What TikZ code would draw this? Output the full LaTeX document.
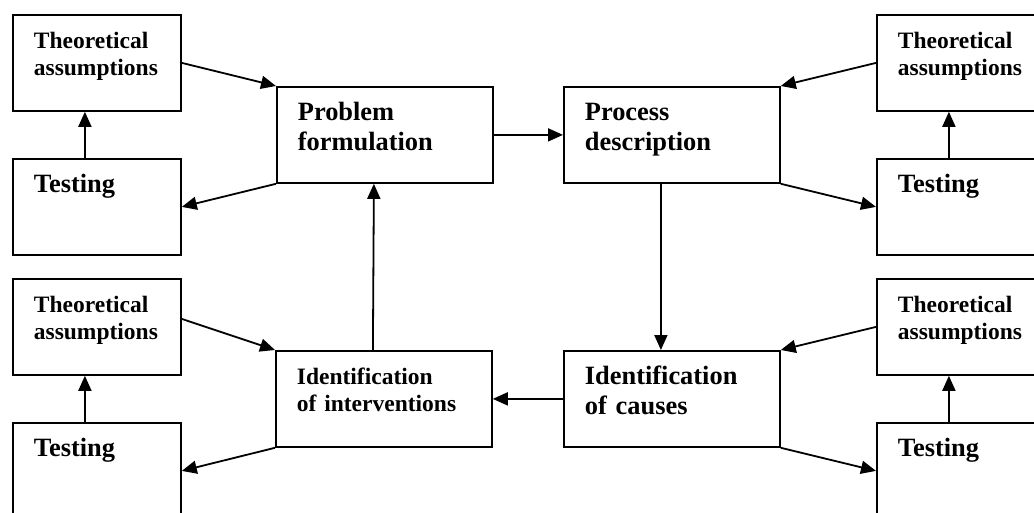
\documentclass[tikz,border=0pt]{standalone}
\usepackage{fontspec}
\setmainfont{Liberation Serif}
\usetikzlibrary{arrows.meta}

\tikzset{
  box/.style={draw,line width=1.8pt,anchor=north west,align=left,
    inner xsep=21pt,inner ysep=0pt,text height=34pt,text depth=62pt,
    font=\bfseries\fontsize{26.4}{30}\selectfont,text width=126pt},
  small/.style={font=\bfseries\fontsize{23.5}{27}\selectfont},
  wide/.style={text width=174pt},
  arr/.style={line width=1.8pt,-{Triangle[length=15pt,width=13pt]}}
}

\begin{document}
\begin{tikzpicture}[x=1pt,y=-1pt]
\useasboundingbox (0,0) rectangle (1034,513);
\draw
(12,14) node[box,small](ta1){Theoretical\\assumptions}
(12,158) node[box](ts1){Testing}
(12,278) node[box,small](ta3){Theoretical\\assumptions}
(12,422) node[box](ts3){Testing}
(276,86) node[box,wide](pf){Problem\\formulation}
(563,86) node[box,wide](pd){Process\\description}
(275,350) node[box,wide,small](ii){Identification\\of interventions}
(563,350) node[box,wide](ic){Identification\\of causes}
(876,14) node[box,small](ta2){Theoretical\\assumptions}
(876,158) node[box](ts2){Testing}
(876,278) node[box,small](ta4){Theoretical\\assumptions}
(876,422) node[box](ts4){Testing}
;
\foreach \x/\y in {ta1.east/pf.north west, pf.south west/ts1.east,
  ta2.west/pd.north east, pd.south east/ts2.west, ii.south west/ts3.east,
  ta4.west/ic.north east, ic.south east/ts4.west, pf.east/pd.west, ic.west/ii.east}{
\draw[arr](\x)--(\y);
}
\draw[arr]([yshift=8pt]ta3.east)--(ii.north west);
\foreach \n in {1,...,4}{
\draw[arr]([xshift=-12pt]ts\n.north)--([xshift=-12pt]ta\n.south);
}
\draw[arr]([xshift=-11pt]pd.south)--([xshift=-11pt]ic.north);
\draw[arr]([xshift=-11pt]ii.north)--([xshift=-11pt]pf.south);
\end{tikzpicture}
\end{document}
